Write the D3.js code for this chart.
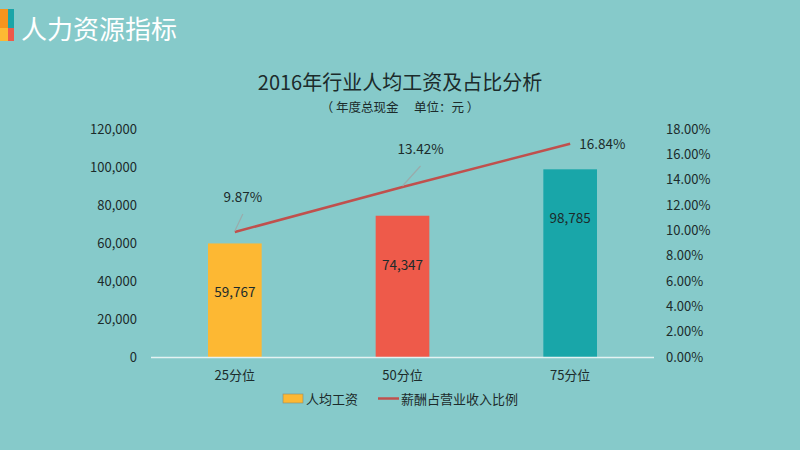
<!DOCTYPE html>
<html>
<head>
<meta charset="utf-8">
<script src="https://cdnjs.cloudflare.com/ajax/libs/d3/7.8.5/d3.min.js"></script>
<style>
  body { margin: 0; background: #86caca; }
  svg { display: block; font-family: "Noto Sans CJK SC", "Noto Sans", sans-serif; }
</style>
</head>
<body>
<svg id="chart" width="800" height="450"></svg>
<script>
const categories = ["25分位", "50分位", "75分位"];
const salary = [59767, 74347, 98785];
const ratio = [9.87, 13.42, 16.84];
const barColors = ["#fdb833", "#ee5a4a", "#19a6a9"];
const leftTicks = [0, 20000, 40000, 60000, 80000, 100000, 120000];
const rightTicks = [0, 2, 4, 6, 8, 10, 12, 14, 16, 18];

const svg = d3.select("#chart");
const textColor = "#1c2b2b";

// header
const icon = [
  { x: 0, y: 9, w: 8, h: 19, c: "#f7941d" },
  { x: 8, y: 9, w: 6, h: 19, c: "#1aa5a8" },
  { x: 0, y: 28, w: 8, h: 13, c: "#fdb933" },
  { x: 8, y: 28, w: 6, h: 13, c: "#ee5a4a" }
];
svg.selectAll(".icon").data(icon).enter().append("rect")
  .attr("x", d => d.x).attr("y", d => d.y)
  .attr("width", d => d.w).attr("height", d => d.h)
  .attr("fill", d => d.c);
svg.append("text").attr("x", 21).attr("y", 39)
  .attr("font-size", 26).attr("fill", "#ffffff")
  .text("人力资源指标");

// titles
svg.append("text").attr("x", 400).attr("y", 90)
  .attr("text-anchor", "middle").attr("font-size", 20).attr("fill", textColor)
  .text("2016年行业人均工资及占比分析");
svg.append("text").attr("x", 400).attr("y", 112)
  .attr("text-anchor", "middle").attr("font-size", 12.5).attr("fill", textColor)
  .attr("xml:space", "preserve")
  .text("（ 年度总现金　 单位：元 ）");

const margin = { left: 151, right: 654, top: 129, bottom: 357 };

const x = d3.scaleBand().domain(categories).range([margin.left, margin.right]).paddingInner(0.68).paddingOuter(0.34);
const yL = d3.scaleLinear().domain([0, 120000]).range([margin.bottom, margin.top]);
const yR = d3.scaleLinear().domain([0, 18]).range([margin.bottom, margin.top]);

// left axis
const axL = svg.append("g").attr("transform", `translate(${margin.left - 4},0)`)
  .call(d3.axisLeft(yL).tickValues(leftTicks).tickSize(0).tickPadding(10).tickFormat(d3.format(",")));
axL.select(".domain").remove();
axL.selectAll("text").attr("font-size", 13).attr("fill", textColor).attr("font-family", "Noto Sans CJK SC, sans-serif");

// right axis
const axR = svg.append("g").attr("transform", `translate(${margin.right + 2},0)`)
  .call(d3.axisRight(yR).tickValues(rightTicks).tickSize(0).tickPadding(10).tickFormat(d => d.toFixed(2) + "%"));
axR.select(".domain").remove();
axR.selectAll("text").attr("font-size", 13).attr("fill", textColor).attr("font-family", "Noto Sans CJK SC, sans-serif");

// bars
svg.selectAll(".bar").data(salary).enter().append("rect")
  .attr("x", (d, i) => x(categories[i]))
  .attr("y", d => yL(d))
  .attr("width", x.bandwidth())
  .attr("height", d => yL(0) - yL(d))
  .attr("fill", (d, i) => barColors[i]);

// baseline
svg.append("line")
  .attr("x1", margin.left).attr("x2", margin.right)
  .attr("y1", yL(0) + 0.5).attr("y2", yL(0) + 0.5)
  .attr("stroke", "#e4f2f2").attr("stroke-width", 1.3);

// bar labels
svg.selectAll(".barLabel").data(salary).enter().append("text")
  .attr("x", (d, i) => x(categories[i]) + x.bandwidth() / 2)
  .attr("y", d => yL(d) + 54)
  .attr("text-anchor", "middle").attr("font-size", 13.5).attr("fill", textColor)
  .text(d => d3.format(",")(d));

// ratio line
const cx = i => x(categories[i]) + x.bandwidth() / 2;
svg.append("path")
  .datum(ratio)
  .attr("d", d3.line().x((d, i) => cx(i)).y(d => yR(d)))
  .attr("fill", "none").attr("stroke", "#c0504d").attr("stroke-width", 2.5);

// ratio labels with leader lines
const labelOffsets = [
  { dx: 8, dy: -30, lead: true, anchor: "middle" },
  { dx: 18, dy: -33, lead: true, anchor: "middle" },
  { dx: 9, dy: 5, lead: false, anchor: "start" }
];
ratio.forEach((d, i) => {
  const o = labelOffsets[i];
  const px = cx(i), py = yR(d);
  if (o.lead) {
    svg.append("line")
      .attr("x1", px).attr("y1", py - 1)
      .attr("x2", px + o.dx).attr("y2", py + o.dy + 12)
      .attr("stroke", "#9aabab").attr("stroke-width", 1.2);
  }
  svg.append("text")
    .attr("x", px + o.dx).attr("y", py + o.dy)
    .attr("text-anchor", o.anchor).attr("font-size", 13.5).attr("fill", textColor)
    .text(d.toFixed(2) + "%");
});

// category labels
svg.selectAll(".cat").data(categories).enter().append("text")
  .attr("x", d => x(d) + x.bandwidth() / 2)
  .attr("y", 380)
  .attr("text-anchor", "middle").attr("font-size", 13).attr("fill", textColor)
  .text(d => d);

// legend
const lg = svg.append("g");
lg.append("rect").attr("x", 283).attr("y", 394).attr("width", 20).attr("height", 9)
  .attr("fill", "#fdb833").attr("stroke", "#8a8a70").attr("stroke-width", 0.6);
lg.append("text").attr("x", 306).attr("y", 404).attr("font-size", 13).attr("fill", textColor).text("人均工资");
lg.append("line").attr("x1", 378).attr("x2", 399).attr("y1", 398.5).attr("y2", 398.5)
  .attr("stroke", "#c0504d").attr("stroke-width", 2.5);
lg.append("text").attr("x", 401).attr("y", 404).attr("font-size", 13).attr("fill", textColor).text("薪酬占营业收入比例");
</script>
</body>
</html>
